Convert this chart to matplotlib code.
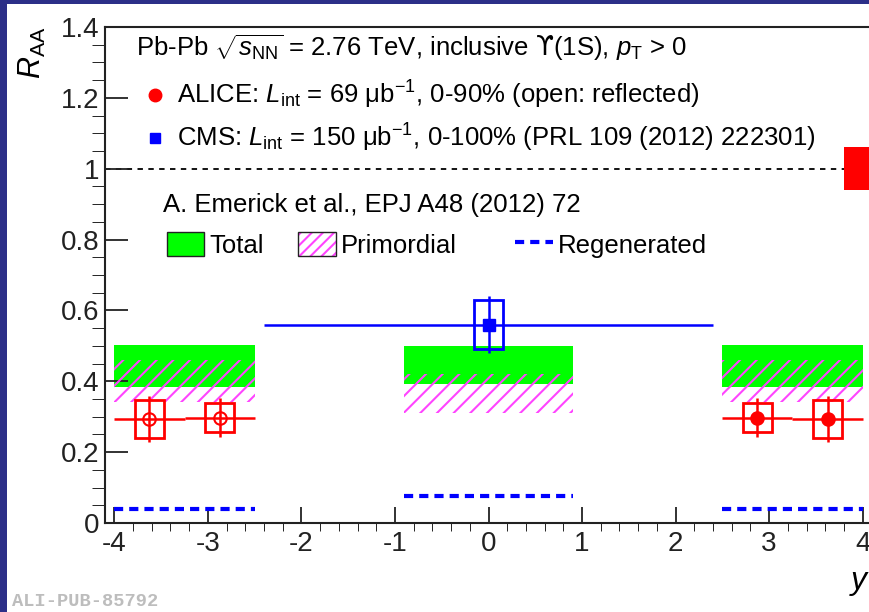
import matplotlib
matplotlib.use("Agg")
import matplotlib.pyplot as plt
from matplotlib.patches import Rectangle, Patch
from matplotlib.lines import Line2D
from matplotlib.legend_handler import HandlerTuple
from matplotlib.ticker import MultipleLocator, FormatStrFormatter

plt.rcParams["font.family"] = ["Liberation Sans", "DejaVu Sans"]
plt.rcParams["mathtext.fontset"] = "custom"
plt.rcParams["mathtext.rm"] = "Liberation Sans"
plt.rcParams["mathtext.it"] = "Liberation Sans:italic"
plt.rcParams["mathtext.sf"] = "DejaVu Sans"
plt.rcParams["axes.unicode_minus"] = False
plt.rcParams["hatch.linewidth"] = 1.5

# ALICE forward rapidity bins (open = reflected to negative y)
alice_y = [2.875, 3.625]
alice_xerr = [0.375, 0.375]
alice_raa = [0.297, 0.293]
alice_stat = [0.055, 0.065]
alice_sys = [0.041, 0.053]
alice_global = [1.0, 0.06]

# CMS mid-rapidity
cms_y = [0.0]
cms_xerr = [2.4]
cms_raa = [0.56]
cms_stat = [0.08]
cms_sys = [0.07]

# Emerick et al. model, one entry per rapidity region
model_lo = [-4.0, -0.9, 2.5]
model_hi = [-2.5, 0.9, 4.0]
total_lo = [0.384, 0.392, 0.384]
total_hi = [0.503, 0.500, 0.503]
prim_lo = [0.341, 0.310, 0.341]
prim_hi = [0.460, 0.420, 0.460]
regen = [0.040, 0.077, 0.040]

box_half = 0.155
green = "#00ff00"
magenta = "#ff44ff"
red = "#ff0000"
blue = "#0000ff"
regen_dash = (0, (2.2, 1.45))

fig = plt.figure(figsize=(8.69, 6.12), dpi=100)
fig.patch.set_facecolor("#2c2f88")
fig.patches.append(Rectangle((7 / 869, 0), 1, 608 / 612, transform=fig.transFigure,
                             facecolor="white", edgecolor="none", zorder=-10))

ax = fig.add_axes([105 / 869, 89 / 612, 767 / 869, 496 / 612])
ax.set_xlim(-4.1, 4.1)
ax.set_ylim(0, 1.4)

# model bands
for x0, x1, tl, th, pl, ph, rg in zip(model_lo, model_hi, total_lo, total_hi,
                                      prim_lo, prim_hi, regen):
    ax.fill_between([x0, x1], tl, th, color=green, linewidth=0, zorder=1)
    ax.fill_between([x0, x1], pl, ph, facecolor="none", edgecolor=magenta,
                    hatch="//", linewidth=0, zorder=2)
    ax.plot([x0, x1], [rg, rg], color=blue, lw=3, ls=regen_dash, zorder=2)

# reference line at 1 and global uncertainty
ax.axhline(1.0, color="black", lw=1.3, ls=(0, (3, 3)), zorder=1)
ax.add_patch(Rectangle((3.8, alice_global[0] - alice_global[1]), 0.3,
                       2 * alice_global[1], facecolor=red, edgecolor="none", zorder=3))

# ALICE points
for sign, face in [(1, red), (-1, "none")]:
    ys = [sign * v for v in alice_y]
    ax.errorbar(ys, alice_raa, xerr=alice_xerr, yerr=alice_stat, fmt="o", ms=9,
                color=red, mfc=face, mec=red, mew=1.5, elinewidth=1.8, capsize=0, zorder=5)
    for yc, r, s in zip(ys, alice_raa, alice_sys):
        ax.add_patch(Rectangle((yc - box_half, r - s), 2 * box_half, 2 * s,
                               fill=False, edgecolor=red, lw=2, zorder=4))

# CMS point
ax.errorbar(cms_y, cms_raa, xerr=cms_xerr, yerr=cms_stat, fmt="s", ms=8,
            color=blue, elinewidth=1.8, capsize=0, zorder=5)
for yc, r, s in zip(cms_y, cms_raa, cms_sys):
    ax.add_patch(Rectangle((yc - box_half, r - s), 2 * box_half, 2 * s,
                           fill=False, edgecolor=blue, lw=2, zorder=4))

# axes style
for sp in ax.spines.values():
    sp.set_linewidth(1.5)
    sp.set_color("#222222")
ax.xaxis.set_major_locator(MultipleLocator(1))
ax.xaxis.set_minor_locator(MultipleLocator(0.2))
ax.yaxis.set_major_locator(MultipleLocator(0.2))
ax.yaxis.set_minor_locator(MultipleLocator(0.05))
ax.yaxis.set_major_formatter(FormatStrFormatter("%g"))
ax.xaxis.set_major_formatter(FormatStrFormatter("%g"))
ax.tick_params(direction="in", width=1.3, labelsize=20, colors="#222222")
ax.tick_params(axis="y", which="major", length=16.5, pad=4)
ax.tick_params(axis="y", which="minor", length=9.5)
ax.tick_params(axis="x", which="major", length=11.5, pad=6)
ax.tick_params(axis="x", which="minor", length=6)

ax.set_ylabel(r"$R_{\mathrm{AA}}$", fontsize=22, loc="top")
ax.yaxis.set_label_coords(-0.074, 1.0)
ax.set_xlabel(r"$y$", fontsize=23, loc="right")
ax.xaxis.set_label_coords(0.998, -0.091)

# header and legends
fs = 18.5
ax.text(0.040, 0.958,
        "Pb-Pb $\\sqrt{s_{\\mathrm{NN}}}$ = 2.76 TeV, inclusive $\\mathsf{\u03d2}$(1S), $p_{\\mathrm{T}}$ > 0",
        transform=ax.transAxes, fontsize=fs, va="center", ha="left")
data_handles = [Line2D([], [], marker="o", color=red, ls="none", ms=9),
                Line2D([], [], marker="s", color=blue, ls="none", ms=7.5)]
data_labels = ["ALICE: $L_{\\mathrm{int}}$ = 69 \u03bcb$^{-1}$, 0-90% (open: reflected)",
               "CMS: $L_{\\mathrm{int}}$ = 150 \u03bcb$^{-1}$, 0-100% (PRL 109 (2012) 222301)"]
leg1 = ax.legend(data_handles, data_labels, loc="upper left", bbox_to_anchor=(0.048, 0.895),
                 frameon=False, fontsize=fs, handlelength=1.0, handletextpad=0.38,
                 labelspacing=0.42, borderaxespad=0, borderpad=0)
ax.add_artist(leg1)

ax.text(0.0756, 0.641, "A. Emerick et al., EPJ A48 (2012) 72", transform=ax.transAxes,
        fontsize=fs, va="center", ha="left")
model_handles = [Patch(facecolor=green, edgecolor="#222222", lw=1),
                 (Patch(facecolor="white", edgecolor=magenta, hatch="///", lw=0),
                  Patch(facecolor="none", edgecolor="#222222", lw=1)),
                 Line2D([], [], color=blue, lw=3, ls=regen_dash)]
model_labels = ["Total", "Primordial", "Regenerated"]
model_x = [0.081, 0.252, 0.535]
for h, lab, xa in zip(model_handles, model_labels, model_x):
    lg = ax.legend([h], [lab], loc="upper left", bbox_to_anchor=(xa, 0.587),
                   frameon=False, fontsize=fs, handlelength=1.45, handleheight=1.05,
                   handletextpad=0.2, borderaxespad=0, borderpad=0,
                   handler_map={tuple: HandlerTuple(ndivide=1)})
    ax.add_artist(lg)
ax.legend_ = None

fig.text(12 / 869, 2 / 612, "ALI-PUB-85792", fontsize=13.5, color="#bdbdbd",
         family="Liberation Mono", weight="bold", ha="left", va="bottom")

fig.savefig("out.png", dpi=100, facecolor=fig.get_facecolor())
